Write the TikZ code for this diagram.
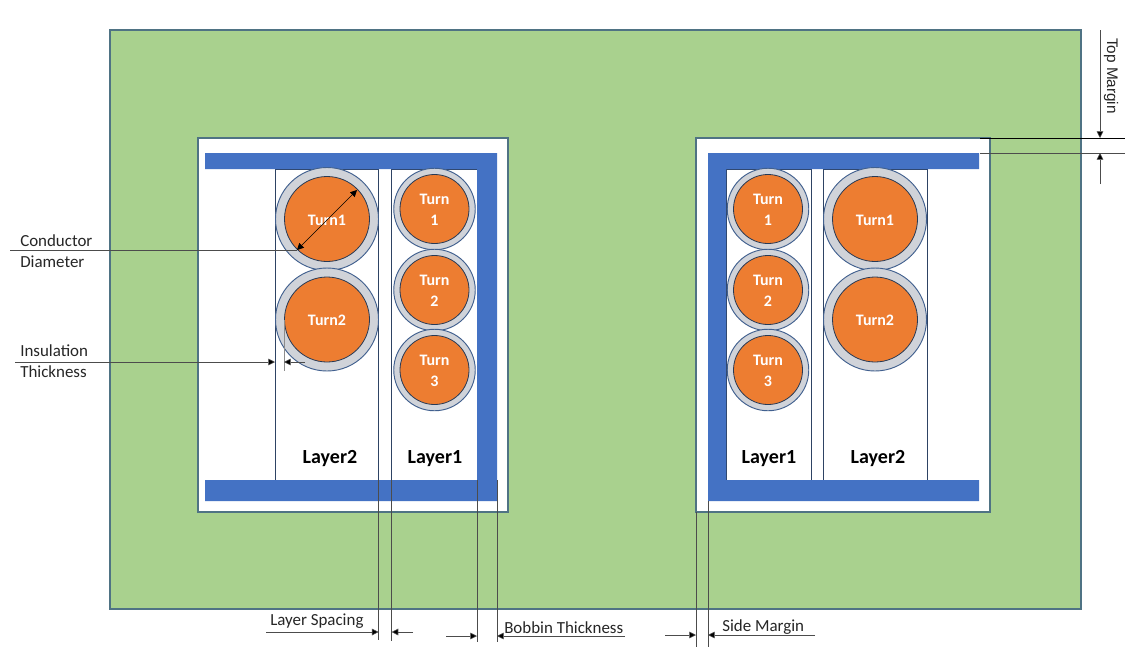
\documentclass[tikz,border=0pt]{standalone}
\usepackage{fontspec}
\setmainfont{Carlito}
\newfontfamily\arialfont{Liberation Sans}
\definecolor{coregreen}{HTML}{A9D18E}
\definecolor{edgeblue}{HTML}{4F7384}
\definecolor{bobbinblue}{HTML}{4472C4}
\definecolor{copper}{HTML}{ED7D31}
\definecolor{insul}{HTML}{D0D3D9}
\definecolor{ringedge}{HTML}{41608F}
\usetikzlibrary{arrows.meta}
\tikzset{
  px/.style={x=0.75pt,y=-0.75pt},
  winbox/.style={draw=edgeblue,line width=0.8pt,fill=white},
  layerbox/.style={draw=ringedge!70!black,line width=0.55pt,fill=white},
  bob/.style={fill=bobbinblue,draw=none},
  ins/.style={circle,draw=ringedge,line width=0.7pt,fill=insul,inner sep=0pt},
  cond/.style={circle,draw=ringedge!60!black,line width=0.6pt,fill=copper,inner sep=0pt},
  turnlab/.style={text=white,align=center,inner sep=0pt,font=\fontsize{12}{15.3}\selectfont\bfseries},
  big/.style={minimum size=103*0.75pt},
  bigc/.style={minimum size=85*0.75pt},
  small/.style={minimum size=81.5*0.75pt},
  smallc/.style={minimum size=69*0.75pt},
  dimline/.style={draw=black!70,line width=0.45pt},
  dimarrow/.style={draw=black!70,line width=0.45pt,-{Triangle[length=5pt,width=5pt,fill=black]}},
  dimboth/.style={draw=black,line width=0.5pt,{Triangle[length=5pt,width=5pt,fill=black]}-{Triangle[length=5pt,width=5pt,fill=black]}},
  lab/.style={font=\fontsize{12.7}{15.6}\selectfont,text=black!85,inner sep=0pt,align=left},
  laylab/.style={font=\fontsize{15}{17}\selectfont\bfseries,text=black,inner sep=0pt},
}
\newcommand{\turn}[5]{% name, x, y, size styles, text
  \node[ins,#4] (#1o) at (#2,#3) {};
  \node[cond,#4c] (#1) at (#2,#3) {};
  \node[turnlab] (#1t) at (#2,#3+1) {#5};
}
\begin{document}
\begin{tikzpicture}[px]
\useasboundingbox (0,0) rectangle (1134,661);
\fill[white] (0,0) rectangle (1134,661);
% core
\draw[fill=coregreen,draw=edgeblue,line width=0.8pt] (110,30) rectangle (1081,609);
\draw[winbox] (198,138) rectangle (508,512);
\draw[winbox] (696,138) rectangle (990,512);
% layer boxes
\draw[layerbox] (275,169) rectangle (378.6,480);
\draw[layerbox] (391.6,169) rectangle (477,480);
\draw[layerbox] (726,169) rectangle (811,480);
\draw[layerbox] (823.6,169) rectangle (927,480);
% bobbins
\fill[bob] (205,153) -- (497,153) -- (497,501) -- (205,501) -- (205,480) -- (477,480) -- (477,169) -- (205,169) -- cycle;
\fill[bob] (979,153) -- (708,153) -- (708,501) -- (979,501) -- (979,480) -- (726,480) -- (726,169) -- (979,169) -- cycle;
% turns
\turn{aa}{327}{219}{big}{Turn1}
\turn{ab}{327}{319.5}{big}{Turn2}
\turn{ba}{434.5}{209}{small}{Turn\\1}
\turn{bb}{434.5}{290}{small}{Turn\\2}
\turn{bc}{434.5}{370}{small}{Turn\\3}
\turn{ca}{768}{209}{small}{Turn\\1}
\turn{cb}{768}{290}{small}{Turn\\2}
\turn{cc}{768}{370}{small}{Turn\\3}
\turn{da}{875}{219}{big}{Turn1}
\turn{db}{875}{319.5}{big}{Turn2}
% layer labels
\node[laylab] (l2a) at (330,458.5) {Layer2};
\node[laylab] (l1a) at (435,458.5) {Layer1};
\node[laylab] (l1b) at (769,458.5) {Layer1};
\node[laylab] (l2b) at (878,458.5) {Layer2};
% dimension coordinates
\coordinate (cdS) at (10,250);
\coordinate (cdA) at (297,250);
\coordinate (cdB) at (357,190);
\coordinate (itS) at (15,362);
\coordinate (itA) at (275,362);
\coordinate (itT1) at (284,320);
\coordinate (itT2) at (284,371);
\coordinate (itE) at (305,362);
\coordinate (itB) at (284,362);
\draw[dimline] (cdS) -- (cdA);
\draw[dimboth] (cdA) -- (cdB);
\draw[dimarrow] (itS) -- (itA);
\draw[draw=black!45,line width=0.5pt] (itT1) -- (itT2);
\draw[dimarrow] (itE) -- (itB);
% bottom extension lines
\foreach \n/\x/\ya/\yb in {ls1/378.6/480/640,ls2/391.6/480/641,bt1/477/480/642,bt2/497/480/642,sm1/696/512/647,sm2/708/501/647}{
  \coordinate (\n a) at (\x,\ya);
  \coordinate (\n b) at (\x,\yb);
  \draw[draw=black!70,line width=0.45pt] (\n a) -- (\n b);
}
\coordinate (lsL) at (266,632); \coordinate (lsLe) at (378.6,632);
\coordinate (lsR) at (413,632); \coordinate (lsRe) at (391.6,632);
\coordinate (btL) at (446,636); \coordinate (btLe) at (477,636);
\coordinate (btR) at (625,636); \coordinate (btRe) at (497,636);
\coordinate (smL) at (665,635); \coordinate (smLe) at (696,635);
\coordinate (smR) at (815,635); \coordinate (smRe) at (708,635);
\draw[dimarrow] (lsL) -- (lsLe);
\draw[dimarrow] (lsR) -- (lsRe);
\draw[dimarrow] (btL) -- (btLe);
\draw[dimarrow] (btR) -- (btRe);
\draw[dimarrow] (smL) -- (smLe);
\draw[dimarrow] (smR) -- (smRe);
% top margin
\coordinate (tmA) at (980,138); \coordinate (tmB) at (1125,138);
\coordinate (tmC) at (980,153); \coordinate (tmD) at (1125,153);
\draw[draw=black,line width=0.45pt] (tmA) -- (tmB);
\draw[draw=black!70,line width=0.45pt] (tmC) -- (tmD);
\coordinate (tmU) at (1100,30); \coordinate (tmUe) at (1100,138);
\coordinate (tmL) at (1100,184); \coordinate (tmLe) at (1100,153);
\draw[dimarrow] (tmU) -- (tmUe);
\draw[dimarrow] (tmL) -- (tmLe);
% labels
\node[lab,anchor=west] (t1) at (20,240.5) {Conductor};
\node[lab,anchor=west] (t2) at (20,261.5) {Diameter};
\node[lab,anchor=west] (t3) at (20,350.5) {Insulation};
\node[lab,anchor=west] (t4) at (20,371.5) {Thickness};
\node[lab,anchor=west] (t5) at (270,621.5) {Layer Spacing};
\node[lab,anchor=west] (t6) at (504,627.5) {Bobbin Thickness};
\node[lab,anchor=west] (t7) at (722,627.5) {Side Margin};
\node[inner sep=0pt,rotate=-90,font=\arialfont\fontsize{11.5}{13}\selectfont,text=black!85] (t8) at (1111,76) {Top Margin};
\end{tikzpicture}
\end{document}
